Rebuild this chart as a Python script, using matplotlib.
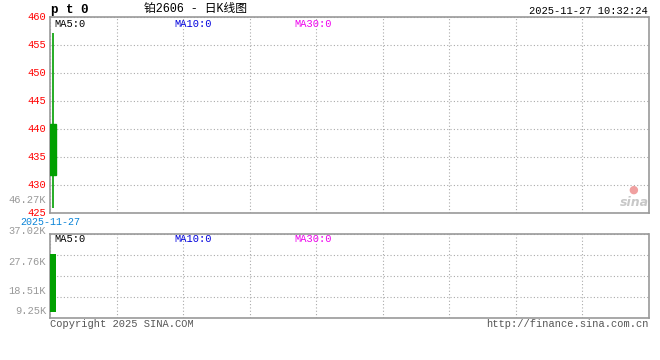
import matplotlib
matplotlib.use("Agg")
import matplotlib.pyplot as plt
from matplotlib.patches import Rectangle

plt.rcParams['font.family'] = ['Liberation Mono', 'Noto Sans CJK SC', 'DejaVu Sans']

# data
dates = ['2025-11-27']
opens = [440.9]
closes = [431.8]
highs = [457.1]
lows = [425.9]
volumes = [27500]

price_ticks = [460, 455, 450, 445, 440, 435, 430, 425]
vol_labels = ['46.27K', '37.02K', '27.76K', '18.51K', '9.25K']
title = '铂2606 - 日K线图'
stamp = '2025-11-27 10:32:24'

W, H = 660, 360
fig = plt.figure(figsize=(6.6, 3.6), dpi=100, facecolor='white')

def px(x0, y0, x1, y1):
    return [x0 / W, 1 - y1 / H, (x1 - x0) / W, (y1 - y0) / H]

ax = fig.add_axes(px(50, 17, 649, 213))
axv = fig.add_axes(px(50, 234, 649, 318))

nslots = 105
xt = [-0.5 + k * nslots / 9 for k in range(10)]
for a in (ax, axv):
    a.set_xlim(-0.5, nslots - 0.5)
    a.set_xticks(xt)
    a.tick_params(left=False, bottom=False, labelleft=False, labelbottom=False)
    a.grid(True, color='#aaaaaa', linestyle=(0, (1, 2)), linewidth=0.8)
    a.set_axisbelow(True)
    for s in a.spines.values():
        s.set_color('#999999')
        s.set_linewidth(1.2)
    a.spines['top'].set_linestyle((0, (1, 1)))

ax.set_ylim(425, 460)
ax.set_yticks(price_ticks)
axv.set_ylim(-3000, 37000)
axv.set_yticks([-3000 + k * 10000 for k in range(5)])

green = '#00a000'
for i in range(len(dates)):
    ax.vlines(i, lows[i], highs[i], color=green, linewidth=1.2)
    lo, hi = min(opens[i], closes[i]), max(opens[i], closes[i])
    ax.add_patch(Rectangle((i - 0.5, lo), 1.0, hi - lo, color=green, zorder=3))
    axv.bar(i, volumes[i], width=1.0, bottom=0, color=green, zorder=3)

# price labels
trans = ax.get_yaxis_transform()
for p in price_ticks:
    ax.text(-4 / 599, p, str(p), transform=trans, color='red', ha='right',
            va='center', fontsize=7.5, clip_on=False)

# volume labels (as on original)
vol_y = [200, 231, 262, 291, 311]
for lab, y in zip(vol_labels, vol_y):
    fig.text(46 / W, 1 - y / H, lab, color='#999999', ha='right', va='center', fontsize=7.5)

fig.text(20 / W, 1 - 222 / H, dates[0], color='#0a84d8', ha='left', va='center', fontsize=7.2)

# header
fig.text(51 / W, 1 - 10 / H, 'p t 0', color='black', ha='left', va='center',
         fontsize=9, fontweight='bold')
fig.text(195 / W, 1 - 9 / H, title, color='black', ha='center', va='center', fontsize=8.5)
fig.text(648 / W, 1 - 11 / H, stamp, color='black', ha='right', va='center', fontsize=7.5)

# MA labels
for y in (24, 239):
    fig.text(54 / W, 1 - y / H, 'MA5:0', color='black', ha='left', va='center', fontsize=7.5)
    fig.text(174 / W, 1 - y / H, 'MA10:0', color='#0000dd', ha='left', va='center', fontsize=7.5)
    fig.text(294 / W, 1 - y / H, 'MA30:0', color='#ee00ee', ha='left', va='center', fontsize=7.5)

# watermark
fig.text(634 / W, 1 - 202 / H, 'sina', color='#c8c8c8', ha='center', va='center',
         fontsize=9, fontstyle='italic', fontweight='bold', family='DejaVu Sans')
fig.text(633 / W, 1 - 190 / H, '●', color='#f0a0a0', ha='center', va='center', fontsize=8,
         family='DejaVu Sans')

# footer
fig.text(50 / W, 1 - 324 / H, 'Copyright 2025 SINA.COM', color='#555555', ha='left',
         va='center', fontsize=7.5)
fig.text(649 / W, 1 - 324 / H, 'http://finance.sina.com.cn', color='#555555', ha='right',
         va='center', fontsize=7.5)

fig.savefig('out.png', dpi=100, facecolor='white')
